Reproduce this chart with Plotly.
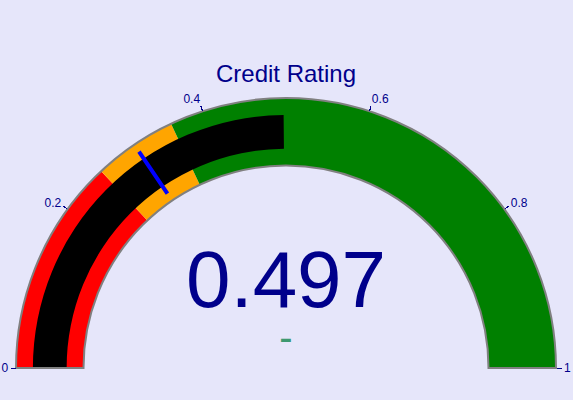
import plotly.graph_objects as go

value = 0.497
reference = 0.497
title_text = "Credit Rating"
gauge_range = [0, 1]
step_ranges = [[0, 0.26], [0.26, 0.36], [0.36, 1]]
step_colors = ["red", "orange", "green"]
threshold_value = 0.31

fig = go.Figure(go.Indicator(
    mode="gauge+number+delta",
    value=value,
    delta={"reference": reference},
    title={"text": title_text, "font": {"size": 24}},
    gauge={
        "axis": {"range": gauge_range, "tickwidth": 1, "tickcolor": "darkblue"},
        "bar": {"color": "black", "thickness": 0.5},
        "bgcolor": "white",
        "borderwidth": 2,
        "bordercolor": "gray",
        "steps": [{"range": r, "color": c} for r, c in zip(step_ranges, step_colors)],
        "threshold": {"line": {"color": "blue", "width": 4}, "thickness": 0.75, "value": threshold_value},
    },
))
fig.update_layout(
    paper_bgcolor="lavender",
    font={"color": "darkblue", "family": "Arial"},
    margin=dict(l=16, r=17, t=80, b=14),
    width=573, height=400,
)
post = ("document.body.style.margin='0';"
        "document.body.style.padding='0';")
fig.write_html("out.html", post_script=post, config={"displayModeBar": False})
